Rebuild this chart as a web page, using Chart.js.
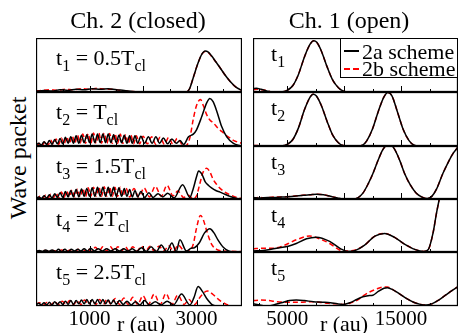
<!DOCTYPE html>
<html>
<head>
<meta charset="utf-8">
<script src="https://cdn.jsdelivr.net/npm/chart.js@4.4.0/dist/chart.umd.min.js"></script>
<style>
  body { margin: 0; background: #fff; overflow: hidden; font-family: "Liberation Serif", "Times New Roman", serif; color: #000; }
  #fig { position: relative; width: 458px; height: 333px; overflow: hidden; }
  #fig canvas { position: absolute; }
  .txt { position: absolute; white-space: nowrap; }
  .lbl { font-size: 22px; line-height: 22px; }
  .lbl span { font-size: 16px; position: relative; top: 6px; }
  .title { font-size: 24px; line-height: 24px; width: 200px; text-align: center; }
  .axis { font-size: 22px; line-height: 22px; width: 100px; text-align: center; }
  #legend { position: absolute; left: 340px; top: 38px; width: 118px; height: 40px; box-sizing: border-box; border: 1px solid #000; background: #fff; }
  .lg-txt { font-size: 22px; line-height: 22px; }
</style>
</head>
<body>
<div id="fig"></div>
<script>
// x in au, y as fraction of panel height
const closedRange = [0, 3850];
const openRange = [2000, 20000];
const closedTicks = [500, 1000, 1500, 2000, 2500, 3000, 3500];
const openTicks = [2500, 5000, 7500, 10000, 12500, 15000, 17500];
const closedTickLabels = [1000, 3000];
const openTickLabels = [5000, 15000];
const closedTimes = ['0.5T', 'T', '1.5T', '2T', '2.5T'];
const seriesNames = ['2a scheme', '2b scheme'];

const closedT1Solid = [[0,0.01],[150,0.03],[300,0.02],[450,0.04],[600,0.03],[750,0.05],[900,0.04],[1050,0.06],[1200,0.05],[1350,0.06],[1500,0.04],[1650,0.03],[1800,0.01],[2000,0],[2800,0],[2870,0.06],[2940,0.27],[3030,0.54],[3100,0.7],[3160,0.76],[3220,0.74],[3280,0.67],[3360,0.56],[3440,0.45],[3530,0.32],[3625,0.2],[3750,0.08],[3850,0.03]];
const closedT1Dashed = [[0,0.02],[100,0.03],[250,0.04],[400,0.03],[550,0.05],[700,0.04],[850,0.06],[1000,0.05],[1150,0.07],[1300,0.05],[1450,0.05],[1600,0.02],[1800,0.01],[2000,0],[2800,0],[2870,0.06],[2940,0.27],[3030,0.54],[3100,0.7],[3160,0.75],[3220,0.73],[3280,0.66],[3360,0.56],[3440,0.45],[3530,0.32],[3625,0.2],[3750,0.08],[3850,0.03]];

const closedT2Solid = [[0,0.02],[50,0.05],[100,0.02],[150,0.08],[200,0.03],[250,0.1],[300,0.03],[350,0.12],[400,0.04],[450,0.14],[500,0.04],[550,0.16],[600,0.05],[650,0.17],[700,0.05],[750,0.19],[800,0.05],[850,0.2],[900,0.06],[950,0.21],[1000,0.06],[1050,0.22],[1100,0.06],[1150,0.22],[1200,0.06],[1250,0.22],[1300,0.06],[1350,0.22],[1400,0.06],[1450,0.21],[1500,0.06],[1550,0.2],[1600,0.06],[1650,0.2],[1700,0.05],[1750,0.19],[1800,0.05],[1850,0.19],[1900,0.05],[1960,0.18],[2030,0.05],[2100,0.17],[2170,0.05],[2240,0.17],[2310,0.05],[2380,0.15],[2460,0.04],[2540,0.13],[2620,0.05],[2690,0.1],[2760,0.03],[2850,0.17],[2940,0.22],[3000,0.3],[3100,0.55],[3190,0.8],[3250,0.88],[3310,0.82],[3380,0.64],[3470,0.36],[3565,0.17],[3690,0.05],[3800,0.01],[3850,0]];
const closedT2Dashed = [[0,0.03],[25,0.01],[75,0.06],[125,0.02],[175,0.09],[225,0.02],[275,0.11],[325,0.03],[375,0.13],[425,0.03],[475,0.15],[525,0.04],[575,0.17],[625,0.04],[675,0.19],[725,0.05],[775,0.2],[825,0.05],[875,0.22],[925,0.05],[975,0.23],[1025,0.05],[1075,0.24],[1125,0.05],[1175,0.24],[1225,0.05],[1275,0.24],[1325,0.05],[1375,0.23],[1425,0.05],[1475,0.23],[1525,0.05],[1575,0.22],[1625,0.05],[1675,0.21],[1725,0.04],[1775,0.2],[1825,0.04],[1875,0.19],[1935,0.04],[2000,0.18],[2080,0.04],[2160,0.17],[2240,0.03],[2320,0.16],[2400,0.03],[2480,0.16],[2560,0.03],[2640,0.14],[2760,0],[2820,0.02],[2875,0.15],[2940,0.5],[3000,0.75],[3075,0.86],[3130,0.74],[3190,0.58],[3250,0.48],[3312,0.43],[3400,0.33],[3470,0.27],[3550,0.2],[3625,0.15],[3700,0.1],[3780,0.07],[3850,0.05]];

const closedT3Solid = [[0,0.01],[50,0.04],[100,0.01],[150,0.06],[200,0.02],[250,0.08],[300,0.02],[350,0.1],[400,0.03],[450,0.12],[500,0.03],[550,0.14],[600,0.04],[650,0.16],[700,0.04],[750,0.18],[800,0.04],[850,0.19],[900,0.05],[950,0.2],[1000,0.05],[1050,0.21],[1100,0.05],[1150,0.22],[1200,0.05],[1250,0.22],[1300,0.05],[1350,0.22],[1400,0.05],[1450,0.22],[1500,0.05],[1550,0.21],[1600,0.05],[1650,0.2],[1700,0.05],[1750,0.18],[1800,0.04],[1850,0.16],[1900,0.04],[1960,0.14],[2030,0.03],[2110,0.12],[2190,0.03],[2280,0.1],[2370,0.04],[2460,0.11],[2580,0.02],[2740,0.27],[2875,0.03],[2940,0.2],[3000,0.42],[3040,0.53],[3100,0.47],[3160,0.33],[3220,0.26],[3280,0.21],[3360,0.16],[3440,0.13],[3530,0.09],[3625,0.05],[3750,0.01],[3850,0]];
const closedT3Dashed = [[0,0.02],[25,0.01],[75,0.05],[125,0.01],[175,0.07],[225,0.02],[275,0.09],[325,0.02],[375,0.11],[425,0.03],[475,0.13],[525,0.03],[575,0.15],[625,0.04],[675,0.17],[725,0.04],[775,0.19],[825,0.04],[875,0.2],[925,0.04],[975,0.21],[1025,0.05],[1075,0.22],[1125,0.05],[1175,0.23],[1225,0.05],[1275,0.23],[1325,0.05],[1375,0.23],[1425,0.05],[1475,0.22],[1525,0.05],[1575,0.22],[1625,0.05],[1680,0.21],[1750,0.04],[1830,0.2],[1920,0.04],[2020,0.21],[2120,0.04],[2230,0.24],[2340,0.05],[2450,0.26],[2560,0.06],[2650,0.15],[2760,0.03],[2850,0.07],[2940,0],[3000,0.06],[3060,0.28],[3120,0.5],[3190,0.58],[3250,0.51],[3310,0.37],[3380,0.27],[3440,0.2],[3530,0.13],[3625,0.08],[3750,0.03],[3850,0.01]];

const closedT4Solid = [[0,0.01],[60,0.03],[120,0.01],[180,0.04],[240,0.01],[300,0.04],[360,0.01],[420,0.05],[480,0.01],[540,0.05],[600,0.01],[660,0.05],[720,0.02],[780,0.05],[840,0.02],[900,0.06],[960,0.02],[1020,0.07],[1090,0.02],[1160,0.06],[1240,0.02],[1320,0.06],[1400,0.02],[1480,0.06],[1560,0.02],[1640,0.06],[1720,0.02],[1800,0.06],[1880,0.01],[1970,0.08],[2060,0.01],[2150,0.1],[2250,0.01],[2340,0.13],[2440,0.01],[2540,0.17],[2620,0.01],[2690,0.23],[2810,0.02],[2900,0.07],[2960,0.08],[3050,0.17],[3150,0.36],[3250,0.44],[3320,0.37],[3400,0.23],[3500,0.09],[3600,0.02],[3700,0],[3850,0]];
const closedT4Dashed = [[0,0.02],[80,0.01],[160,0.03],[240,0.01],[320,0.03],[400,0.01],[480,0.04],[560,0.01],[640,0.04],[720,0.01],[800,0.05],[880,0.01],[960,0.06],[1040,0.01],[1110,0.09],[1180,0.02],[1250,0.1],[1320,0.02],[1390,0.1],[1460,0.02],[1530,0.1],[1600,0.02],[1670,0.1],[1740,0.02],[1810,0.1],[1890,0.02],[1970,0.11],[2050,0.02],[2130,0.11],[2210,0.02],[2300,0.11],[2390,0.02],[2480,0.12],[2570,0.02],[2660,0.13],[2760,0.03],[2870,0.02],[2940,0.15],[3000,0.45],[3075,0.69],[3130,0.6],[3190,0.4],[3280,0.15],[3375,0.05],[3500,0.02],[3850,0.01]];

const closedT5Solid = [[0,0.02],[50,0.05],[100,0.02],[150,0.06],[200,0.02],[250,0.07],[300,0.02],[350,0.08],[400,0.03],[450,0.08],[500,0.03],[550,0.09],[600,0.03],[650,0.1],[700,0.03],[750,0.1],[800,0.04],[850,0.11],[900,0.04],[950,0.12],[1000,0.04],[1050,0.12],[1100,0.04],[1150,0.12],[1200,0.04],[1250,0.12],[1300,0.04],[1350,0.11],[1400,0.04],[1450,0.11],[1500,0.03],[1560,0.1],[1630,0.03],[1700,0.09],[1780,0.02],[1860,0.08],[1940,0.02],[2030,0.1],[2120,0.02],[2230,0.08],[2340,0.02],[2450,0.09],[2570,0.02],[2720,0.22],[2875,0.02],[2950,0.15],[3030,0.36],[3110,0.27],[3190,0.14],[3300,0.02],[3400,0],[3850,0]];
const closedT5Dashed = [[0,0.03],[70,0.06],[140,0.02],[210,0.07],[280,0.02],[350,0.08],[420,0.02],[490,0.09],[560,0.03],[630,0.1],[700,0.03],[770,0.1],[840,0.03],[910,0.11],[980,0.03],[1050,0.11],[1120,0.03],[1190,0.12],[1260,0.03],[1330,0.13],[1400,0.03],[1480,0.14],[1560,0.03],[1640,0.15],[1720,0.03],[1810,0.16],[1900,0.03],[2000,0.19],[2100,0.03],[2210,0.22],[2320,0.03],[2430,0.23],[2540,0.03],[2650,0.2],[2770,0.03],[2860,0.12],[2950,0.02],[3080,0.18],[3200,0.28],[3300,0.22],[3440,0.1],[3560,0.03],[3700,0],[3850,0]];

const openT1Solid = [[2000,0.06],[2300,0.07],[2700,0.05],[3200,0.02],[3700,0],[4200,0],[4700,0.01],[5000,0.03],[5500,0.12],[6000,0.33],[6500,0.64],[7000,0.88],[7330,0.95],[7600,0.92],[8000,0.76],[8500,0.47],[9000,0.22],[9500,0.08],[9900,0.02],[10400,0],[20000,0]];
const openT1Dashed = [[2000,0.04],[2400,0.05],[2800,0.04],[3300,0.02],[3700,0],[4200,0],[4700,0.01],[5000,0.03],[5500,0.12],[6000,0.33],[6500,0.64],[7000,0.88],[7330,0.95],[7600,0.92],[8000,0.76],[8500,0.47],[9000,0.22],[9500,0.08],[9900,0.02],[10400,0],[20000,0]];

const openT2Solid = [[2000,0],[4300,0],[4700,0.01],[5000,0.03],[5500,0.12],[6000,0.34],[6500,0.66],[7000,0.9],[7270,0.96],[7550,0.93],[8000,0.75],[8500,0.46],[9000,0.2],[9500,0.06],[9900,0.01],[10500,0],[11300,0],[11650,0.02],[12000,0.1],[12500,0.32],[13000,0.64],[13500,0.91],[13850,0.99],[14200,0.93],[14700,0.62],[15200,0.3],[15700,0.1],[16100,0.02],[16600,0],[20000,0]];
const openT2Dashed = [[2000,0.01],[4300,0],[4700,0.01],[5000,0.03],[5500,0.12],[6000,0.34],[6500,0.66],[7000,0.9],[7270,0.96],[7550,0.93],[8000,0.75],[8500,0.46],[9000,0.2],[9500,0.06],[9900,0.01],[10500,0],[11300,0],[11650,0.02],[12000,0.1],[12500,0.32],[13000,0.64],[13500,0.91],[13850,0.99],[14200,0.93],[14700,0.62],[15200,0.3],[15700,0.1],[16100,0.02],[16600,0],[20000,0]];

const openT3Solid = [[2000,0.03],[2600,0.02],[3300,0.03],[4000,0.03],[4800,0.04],[5600,0.05],[6400,0.07],[7000,0.08],[7600,0.09],[8200,0.08],[8800,0.05],[9400,0.02],[9900,0],[10800,0],[11200,0.02],[11650,0.11],[12100,0.28],[12530,0.48],[13000,0.74],[13400,0.93],[13900,1.04],[14400,0.95],[14900,0.72],[15310,0.48],[15800,0.27],[16300,0.12],[16800,0.04],[17300,0.01],[17700,0.05],[18100,0.18],[18670,0.48],[19250,0.74],[19600,0.87],[20000,0.98]];
const openT3Dashed = [[2000,0.01],[2500,0.03],[3100,0.02],[3800,0.04],[4600,0.04],[5400,0.05],[6400,0.07],[7000,0.08],[7600,0.09],[8200,0.08],[8800,0.05],[9400,0.02],[9900,0],[10800,0],[11200,0.02],[11650,0.11],[12100,0.28],[12530,0.48],[13000,0.74],[13400,0.93],[13900,1.04],[14400,0.95],[14900,0.72],[15310,0.48],[15800,0.27],[16300,0.12],[16800,0.04],[17300,0.01],[17700,0.05],[18100,0.18],[18670,0.48],[19250,0.74],[19600,0.87],[20000,0.98]];

const openT4Solid = [[2000,0.02],[2900,0.03],[3600,0.05],[4340,0.08],[5100,0.11],[5800,0.16],[6700,0.25],[7560,0.28],[8730,0.2],[9700,0.06],[10330,0.01],[11000,0.03],[11800,0.13],[12700,0.3],[13550,0.35],[14400,0.28],[15300,0.15],[16200,0.05],[17000,0.01],[17400,0.05],[17800,0.35],[18100,0.72],[18400,1.05],[18700,1.45],[19000,1.8]];
const openT4Dashed = [[2000,0.06],[2800,0.07],[3500,0.07],[4340,0.09],[5100,0.16],[5800,0.23],[6970,0.3],[7700,0.26],[8730,0.16],[9500,0.05],[9900,0.02],[10400,0.02],[11000,0.04],[11800,0.13],[12700,0.3],[13550,0.35],[14400,0.28],[15300,0.15],[16200,0.05],[17000,0.01],[17400,0.05],[17800,0.35],[18100,0.72],[18400,1.05],[18700,1.45],[19000,1.8]];

const openT5Solid = [[2000,0.04],[2600,0.02],[3200,0],[3800,0.02],[4500,0.06],[5200,0.1],[5800,0.11],[6500,0.1],[7300,0.08],[8100,0.07],[8800,0.06],[9400,0.04],[9900,0.03],[10500,0.06],[11100,0.12],[11650,0.17],[12100,0.19],[12530,0.2],[13000,0.27],[13500,0.33],[13800,0.34],[14300,0.3],[14900,0.22],[15460,0.14],[16100,0.07],[16700,0.03],[17200,0.02],[17700,0.04],[18300,0.11],[18900,0.2],[19500,0.29],[20000,0.36]];
const openT5Dashed = [[2000,0.1],[2700,0.11],[3400,0.1],[4100,0.08],[4800,0.07],[5500,0.07],[6200,0.07],[7000,0.08],[7800,0.07],[8600,0.05],[9400,0.04],[10000,0.03],[10600,0.06],[11100,0.1],[11700,0.19],[12240,0.26],[12800,0.31],[13400,0.35],[13800,0.35],[14300,0.3],[14900,0.22],[15460,0.14],[16100,0.07],[16700,0.03],[17200,0.02],[17700,0.04],[18300,0.11],[18900,0.2],[19500,0.29],[20000,0.36]];

const closedSolid = [closedT1Solid, closedT2Solid, closedT3Solid, closedT4Solid, closedT5Solid];
const closedDashed = [closedT1Dashed, closedT2Dashed, closedT3Dashed, closedT4Dashed, closedT5Dashed];
const openSolid = [openT1Solid, openT2Solid, openT3Solid, openT4Solid, openT5Solid];
const openDashed = [openT1Dashed, openT2Dashed, openT3Dashed, openT4Dashed, openT5Dashed];

// page layout
const rowTops = [38, 92, 146, 199, 252];
const rowHeights = [54, 54, 53, 53, 54];
const fig = document.getElementById('fig');

// frame and inward ticks along the bottom of every panel
const panelFrame = {
  id: 'panelFrame',
  afterDatasetsDraw(chart, args, opts) {
    const { ctx, chartArea: a } = chart;
    const x = chart.scales.x;
    ctx.save();
    ctx.strokeStyle = '#000';
    ctx.lineWidth = 1.3;
    ctx.strokeRect(a.left + 0.5, a.top + 0.5, a.right - a.left - 1, a.bottom - a.top - 1);
    ctx.lineWidth = 1;
    x.ticks.forEach(t => {
      const px = Math.round(x.getPixelForValue(t.value)) + 0.5;
      const len = t.value % opts.major === 0 ? 6 : 3;
      ctx.beginPath();
      ctx.moveTo(px, a.bottom);
      ctx.lineTo(px, a.bottom - len);
      ctx.stroke();
    });
    ctx.restore();
  }
};

function addText(html, cls, left, top, extra) {
  const d = document.createElement('div');
  d.className = 'txt ' + cls;
  d.innerHTML = html;
  d.style.left = left + 'px';
  d.style.top = top + 'px';
  if (extra) Object.assign(d.style, extra);
  fig.appendChild(d);
  return d;
}

function makePanel(colLeft, colWidth, row, solid, dashed, range, tickValues, major, tickLabels) {
  const isBottom = row === 4;
  const axisH = isBottom ? 27 : 0;
  const canvas = document.createElement('canvas');
  canvas.width = colWidth;
  canvas.height = rowHeights[row] + axisH;
  canvas.style.left = colLeft + 'px';
  canvas.style.top = rowTops[row] + 'px';
  fig.appendChild(canvas);

  new Chart(canvas, {
    type: 'line',
    data: {
      datasets: [
        { label: seriesNames[0], data: solid, borderColor: '#000', borderWidth: 1.5 },
        { label: seriesNames[1], data: dashed, borderColor: '#ff0000', borderWidth: 1.5, borderDash: [5, 3] }
      ]
    },
    options: {
      responsive: false,
      animation: false,
      devicePixelRatio: 1,
      layout: { padding: 0, autoPadding: false },
      elements: {
        point: { radius: 0 },
        line: { cubicInterpolationMode: 'monotone', fill: false }
      },
      plugins: {
        legend: { display: false },
        tooltip: { enabled: false },
        panelFrame: { major: major }
      },
      scales: {
        x: {
          type: 'linear',
          min: range[0],
          max: range[1],
          grid: { display: false, drawTicks: false },
          border: { display: false },
          ticks: {
            display: isBottom,
            autoSkip: false,
            maxRotation: 0,
            minRotation: 0,
            padding: 1,
            color: '#000',
            font: { family: 'Liberation Serif', size: 21 },
            callback: v => tickLabels.includes(v) ? String(v) : ''
          },
          afterBuildTicks: s => { s.ticks = tickValues.map(v => ({ value: v })); },
          afterFit: s => { s.height = axisH; s.paddingLeft = 0; s.paddingRight = 0; }
        },
        y: { display: false, min: 0, max: 1 }
      }
    },
    plugins: [panelFrame]
  });
}

function buildFigure() {
  for (let i = 0; i < 5; i++) {
    makePanel(36, 206, i, closedSolid[i], closedDashed[i], closedRange, closedTicks, 1000, closedTickLabels);
    makePanel(253, 205, i, openSolid[i], openDashed[i], openRange, openTicks, 5000, openTickLabels);

    addText('t<span>' + (i + 1) + '</span> = ' + closedTimes[i] + '<span>cl</span>', 'lbl', 56, rowTops[i] + 9);
    addText('t<span>' + (i + 1) + '</span>', 'lbl', 271, rowTops[i] + 5);
  }

  addText('Ch. 2 (closed)', 'title', 38, 8);
  addText('Ch. 1 (open)', 'title', 249, 8);
  addText('r (au)', 'axis', 91, 313);
  addText('r (au)', 'axis', 294, 313);
  addText('Wave packet', 'title', -82, 146, { transform: 'rotate(-90deg)' });

  const legend = document.createElement('div');
  legend.id = 'legend';
  fig.appendChild(legend);
  const samples = [
    { top: 11, bg: '#000' },
    { top: 29, bg: 'repeating-linear-gradient(90deg, #ff0000 0 6px, transparent 6px 9px)' }
  ];
  samples.forEach((s, k) => {
    const line = document.createElement('div');
    Object.assign(line.style, { position: 'absolute', left: '3px', top: s.top + 'px', width: '15px', height: '1.5px', background: s.bg });
    legend.appendChild(line);
    const t = document.createElement('div');
    t.className = 'txt lg-txt';
    t.textContent = seriesNames[k];
    Object.assign(t.style, { left: '21px', top: (k === 0 ? 2 : 19) + 'px' });
    legend.appendChild(t);
  });
}

document.addEventListener('DOMContentLoaded', () => {
  if (typeof Chart === 'undefined') {
    console.error('Chart.js is not loaded');
    return;
  }
  buildFigure();
});
</script>
</body>
</html>
